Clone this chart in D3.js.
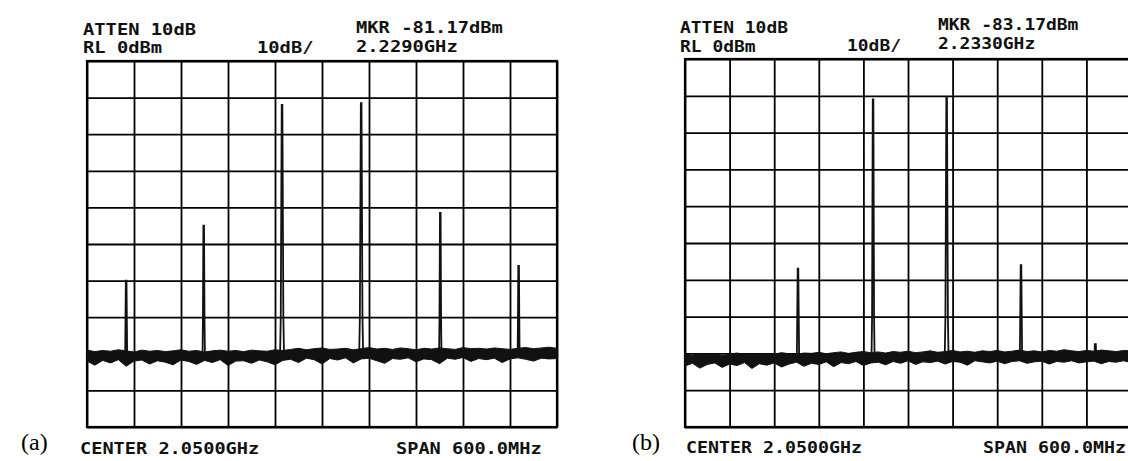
<!DOCTYPE html>
<html>
<head>
<meta charset="utf-8">
<script src="https://cdn.jsdelivr.net/npm/d3@7"></script>
<style>
  body { margin: 0; background: #fff; }
  svg { display: block; }
  .grid line { stroke: #000; stroke-width: 1.8; }
  .grid .domain { display: none; }
  .txt { font-family: "DejaVu Sans Mono", monospace; font-size: 15px; font-weight: bold; fill: #111; }
  .lbl { font-family: "Liberation Serif", "Times New Roman", serif; font-size: 24px; fill: #000; }
</style>
</head>
<body>
<svg id="chart"></svg>
<script>
"use strict";

var width = 1128,
    height = 461;

// axis ticks (10 dB/div from RL 0 dBm, 60 MHz/div around 2.05 GHz)
var levelTicks = [0, -10, -20, -30, -40, -50, -60, -70, -80, -90, -100];
var freqTicks = [1.75, 1.81, 1.87, 1.93, 1.99, 2.05, 2.11, 2.17, 2.23, 2.29, 2.35];

// text on the screens
var panelLabels = ["(a)", "(b)"];
var attenText = ["ATTEN 10dB", "ATTEN 10dB"];
var rlText = ["RL 0dBm", "RL 0dBm"];
var divText = ["10dB/", "10dB/"];
var mkrText = ["MKR -81.17dBm", "MKR -83.17dBm"];
var mkrFreqText = ["2.2290GHz", "2.2330GHz"];
var centerText = ["CENTER 2.0500GHz", "CENTER 2.0500GHz"];
var spanText = ["SPAN 600.0MHz", "SPAN 600.0MHz"];

// carriers, GHz / dBm / width at the floor in MHz
var peakFreqA = [1.800, 1.899, 1.999, 2.100, 2.201, 2.301];
var peakLevelA = [-60, -45, -12, -11.5, -41.5, -56];
var peakBaseA = [2.5, 3, 5, 5, 3, 2.5];

var peakFreqB = [1.902, 2.003, 2.102, 2.202, 2.302];
var peakLevelB = [-57, -11, -10.5, -56, -77.5];
var peakBaseB = [3, 4, 5, 3, 2];

// noise band, read every 10 MHz from 1.75 to 2.35 GHz (top and bottom edge, dBm)
var noiseTopA = [-79.0, -79.4, -79.1, -79.3, -78.9, -79.2, -79.5, -79.0, -79.3, -79.1,
    -79.4, -79.2, -78.9, -79.3, -79.1, -79.5, -79.2, -79.0, -79.3, -79.1,
    -79.4, -79.0, -79.2, -79.3, -78.9, -79.1,
    -78.8, -78.5, -78.9, -78.6, -78.4, -78.8, -78.7, -78.5, -78.9, -78.6,
    -78.3, -78.7, -78.5, -78.8, -78.4, -78.6, -78.9, -78.5, -78.7, -78.4,
    -78.6, -78.8, -78.3, -78.6, -78.5, -78.7, -78.4, -78.6, -78.8, -78.5,
    -78.3, -78.6, -78.4, -78.2, -78.5];
var noiseBotA = [-82.0, -83.1, -81.8, -82.5, -81.6, -83.4, -82.0, -81.7, -82.8, -81.9,
    -82.3, -83.0, -81.7, -82.1, -82.9, -81.8, -82.4, -81.6, -83.2, -82.0,
    -81.9, -82.6, -81.7, -82.2, -83.0, -81.8,
    -81.5, -82.4, -81.2, -81.6, -82.8, -81.3, -81.7, -81.1, -82.5, -81.4,
    -81.2, -81.9, -82.6, -81.3, -81.5, -81.1, -82.2, -81.4, -81.6, -82.7,
    -81.2, -81.5, -81.0, -82.1, -81.3, -81.6, -81.2, -82.4, -81.4, -81.1,
    -81.5, -82.0, -81.2, -81.4, -81.3];

var noiseTopB = [-80.2, -80.5, -80.0, -80.4, -80.1, -80.6, -80.2, -79.9, -80.3, -80.1,
    -80.4, -80.0, -80.2, -79.8, -80.1, -80.3, -79.9, -80.0, -79.7, -80.1,
    -79.8, -79.6, -80.0, -79.7, -79.5, -79.8, -79.6, -79.9, -79.5, -79.7,
    -79.4, -79.8, -79.6, -79.3, -79.7, -79.5, -79.2, -79.6, -79.4, -79.7,
    -79.3, -79.5, -79.2, -79.6, -79.4, -79.1, -79.5, -79.3, -79.6, -79.2,
    -79.4, -79.0, -79.3, -79.5, -79.2, -79.4, -79.1, -79.3, -79.5, -79.2,
    -79.3];
var noiseBotB = [-83.4, -82.7, -84.0, -83.0, -82.6, -83.8, -82.9, -83.3, -82.5, -84.1,
    -82.8, -83.2, -82.6, -83.7, -82.9, -82.4, -83.5, -82.7, -83.0, -82.3,
    -83.6, -82.5, -82.8, -82.2, -83.3, -82.6, -82.4, -83.1, -82.2, -82.7,
    -82.0, -83.0, -82.3, -82.5, -82.1, -82.9, -82.2, -82.4, -83.2, -82.0,
    -82.3, -82.6, -82.1, -82.8, -82.2, -82.0, -82.7, -82.3, -82.1, -82.9,
    -82.2, -82.4, -82.0, -82.6, -82.3, -82.1, -82.8, -82.2, -82.4, -82.0,
    -82.5];

// screen placement for each panel
var layouts = [
    { x0: 87, x1: 557, y0: 61, y1: 427, adv: 11.3,
      atten: [83, 35], rl: [83, 53], div: [257, 53], mkr: [356, 33], mfreq: [356, 52],
      label: [21, 450], center: [80, 454], span: [396, 454], bAdv: 11.2 },
    { x0: 685, x1: 1131, y0: 59, y1: 427, adv: 10.8,
      atten: [680, 33], rl: [680, 52], div: [847, 51], mkr: [938, 30], mfreq: [938, 49],
      label: [632, 450], center: [686, 453], span: [983, 453], bAdv: 11.0 }
];

var traces = [
    { pf: peakFreqA, pl: peakLevelA, pb: peakBaseA, top: noiseTopA, bot: noiseBotA },
    { pf: peakFreqB, pl: peakLevelB, pb: peakBaseB, top: noiseTopB, bot: noiseBotB }
];

var svg = d3.select("#chart")
    .attr("width", width)
    .attr("height", height);

function monoText(g, pos, str, adv) {
    g.append("text")
        .attr("class", "txt")
        .attr("x", pos[0])
        .attr("y", pos[1])
        .attr("textLength", str.length * adv)
        .attr("lengthAdjust", "spacingAndGlyphs")
        .text(str);
}

layouts.forEach(function (L, k) {
    var tr = traces[k];
    var g = svg.append("g");

    var x = d3.scaleLinear().domain([freqTicks[0], freqTicks[freqTicks.length - 1]]).range([L.x0, L.x1]);
    var y = d3.scaleLinear().domain([levelTicks[0], levelTicks[levelTicks.length - 1]]).range([L.y0, L.y1]);

    // graticule
    g.append("g")
        .attr("class", "grid")
        .attr("transform", "translate(0," + L.y1 + ")")
        .call(d3.axisBottom(x).tickValues(freqTicks).tickSize(-(L.y1 - L.y0)).tickFormat(""));
    g.append("g")
        .attr("class", "grid")
        .attr("transform", "translate(" + L.x0 + ",0)")
        .call(d3.axisLeft(y).tickValues(levelTicks).tickSize(-(L.x1 - L.x0)).tickFormat(""));
    g.append("rect")
        .attr("x", L.x0).attr("y", L.y0)
        .attr("width", L.x1 - L.x0).attr("height", L.y1 - L.y0)
        .attr("fill", "none").attr("stroke", "#000").attr("stroke-width", 2.2);

    // noise floor band
    var nf = tr.top.map(function (v, i) { return freqTicks[0] + i * 0.01; });
    var band = d3.area()
        .x(function (d, i) { return x(nf[i]); })
        .y0(function (d, i) { return y(tr.bot[i]); })
        .y1(function (d, i) { return y(tr.top[i]); });
    g.append("path")
        .datum(tr.top)
        .attr("d", band)
        .attr("fill", "#111")
        .attr("stroke", "#111")
        .attr("stroke-width", 1);

    // carriers
    var spike = d3.line()
        .x(function (d) { return x(d[0]); })
        .y(function (d) { return y(d[1]); });
    tr.pf.forEach(function (f, i) {
        var w = tr.pb[i] / 1000,
            sh = Math.min(-70, tr.pl[i]);
        var pts = [[f - w / 2, -80], [f - w / 3, sh], [f - 0.0004, tr.pl[i]],
                   [f + 0.0004, tr.pl[i]], [f + w / 3, sh], [f + w / 2, -80]];
        g.append("path")
            .datum(pts)
            .attr("d", spike)
            .attr("fill", "none")
            .attr("stroke", "#111")
            .attr("stroke-width", 1.8);
    });

    // annotations
    monoText(g, L.atten, attenText[k], L.adv);
    monoText(g, L.rl, rlText[k], L.adv);
    monoText(g, L.div, divText[k], L.adv);
    monoText(g, L.mkr, mkrText[k], L.adv);
    monoText(g, L.mfreq, mkrFreqText[k], L.adv);
    monoText(g, L.center, centerText[k], L.bAdv);
    monoText(g, L.span, spanText[k], L.bAdv);

    g.append("text")
        .attr("class", "lbl")
        .attr("x", L.label[0])
        .attr("y", L.label[1])
        .text(panelLabels[k]);
});
</script>
</body>
</html>
